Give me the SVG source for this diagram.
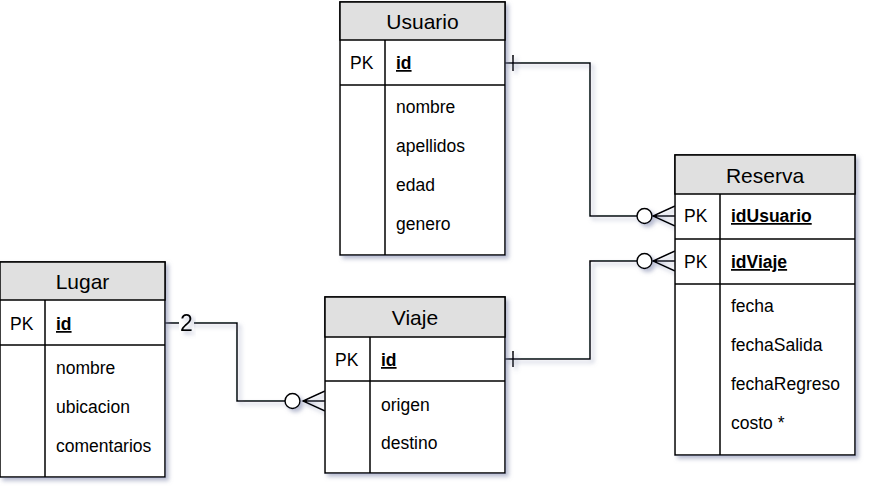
<svg xmlns="http://www.w3.org/2000/svg" width="873" height="495" viewBox="0 0 873 495">
<defs>
<filter id="sh" x="-10%" y="-10%" width="130%" height="130%">
<feDropShadow dx="3" dy="3" stdDeviation="2" flood-color="#7a82a8" flood-opacity="0.55"/>
</filter>
</defs>
<style>
.box{fill:#fff;stroke:#000;stroke-width:1.5}
.hd{fill:#e0e0e0;stroke:#000;stroke-width:1.5}
.ln{stroke:#000;stroke-width:1.5;fill:none}
.t{font-family:"Liberation Sans",Arial,sans-serif;font-size:17.5px;fill:#000}
.h{font-family:"Liberation Sans",Arial,sans-serif;font-size:21px;fill:#000;text-anchor:middle}
.pk{font-family:"Liberation Sans",Arial,sans-serif;font-size:17.5px;font-weight:bold;text-decoration:underline;fill:#000}
.c{fill:#fff;stroke:#000;stroke-width:1.5}
</style>
<g id="connectors">
<g filter="url(#sh)">
<path class="ln" d="M505,63 H590 V216 H637"/>
<line class="ln" x1="513" y1="55" x2="513" y2="71"/>
<circle class="c" cx="644.5" cy="216" r="7.5"/>
<path class="ln" d="M675,206 L653,216 L675,226 M653,216 H675"/>
<path class="ln" d="M505,359 H590 V261 H637"/>
<line class="ln" x1="513" y1="351" x2="513" y2="367"/>
<circle class="c" cx="644.5" cy="261" r="7.5"/>
<path class="ln" d="M675,251 L653,261 L675,271 M653,261 H675"/>
<path class="ln" d="M165,323 H237 V401 H285"/>
<circle class="c" cx="292.5" cy="401" r="7.5"/>
<path class="ln" d="M325,391 L303,401 L325,411 M303,401 H325"/>
</g>
<rect x="179" y="310" width="15" height="24" fill="#fff"/>
<text x="186.5" y="331" font-family="Liberation Sans, Arial, sans-serif" font-size="23" text-anchor="middle" filter="url(#sh)">2</text>
</g>
<g id="usuario">
<g filter="url(#sh)">
<rect class="box" x="340" y="2" width="165" height="253"/>
</g>
<rect class="hd" x="340" y="2" width="165" height="38"/>
<line class="ln" x1="340" y1="85" x2="505" y2="85"/>
<line class="ln" x1="385" y1="40" x2="385" y2="255"/>
<text class="h" x="422.5" y="29">Usuario</text>
<text class="t" x="350" y="69">PK</text>
<text class="pk" x="396" y="69">id</text>
<text class="t" x="396" y="113">nombre</text>
<text class="t" x="396" y="152">apellidos</text>
<text class="t" x="396" y="191">edad</text>
<text class="t" x="396" y="230">genero</text>
</g>
<g id="reserva">
<g filter="url(#sh)">
<rect class="box" x="675" y="155" width="180" height="300"/>
</g>
<rect class="hd" x="675" y="155" width="180" height="39"/>
<line class="ln" x1="675" y1="239" x2="855" y2="239"/>
<line class="ln" x1="675" y1="284" x2="855" y2="284"/>
<line class="ln" x1="720" y1="194" x2="720" y2="455"/>
<text class="h" x="765" y="183">Reserva</text>
<text class="t" x="684" y="222">PK</text>
<text class="pk" x="731" y="222">idUsuario</text>
<text class="t" x="684" y="268">PK</text>
<text class="pk" x="731" y="268">idViaje</text>
<text class="t" x="731" y="312">fecha</text>
<text class="t" x="731" y="351">fechaSalida</text>
<text class="t" x="731" y="390">fechaRegreso</text>
<text class="t" x="731" y="429">costo *</text>
</g>
<g id="lugar">
<g filter="url(#sh)">
<rect class="box" x="0" y="262" width="165" height="215"/>
</g>
<rect class="hd" x="0" y="262" width="165" height="38"/>
<line class="ln" x1="0" y1="345" x2="165" y2="345"/>
<line class="ln" x1="45" y1="300" x2="45" y2="477"/>
<text class="h" x="82.5" y="289">Lugar</text>
<text class="t" x="10" y="330">PK</text>
<text class="pk" x="56" y="330">id</text>
<text class="t" x="56" y="374">nombre</text>
<text class="t" x="56" y="413">ubicacion</text>
<text class="t" x="56" y="452">comentarios</text>
</g>
<g id="viaje">
<g filter="url(#sh)">
<rect class="box" x="325" y="297" width="180" height="176"/>
</g>
<rect class="hd" x="325" y="297" width="180" height="40"/>
<line class="ln" x1="325" y1="381" x2="505" y2="381"/>
<line class="ln" x1="370" y1="337" x2="370" y2="473"/>
<text class="h" x="415" y="325">Viaje</text>
<text class="t" x="335" y="366">PK</text>
<text class="pk" x="381" y="366">id</text>
<text class="t" x="381" y="411">origen</text>
<text class="t" x="381" y="449">destino</text>
</g>
</svg>
